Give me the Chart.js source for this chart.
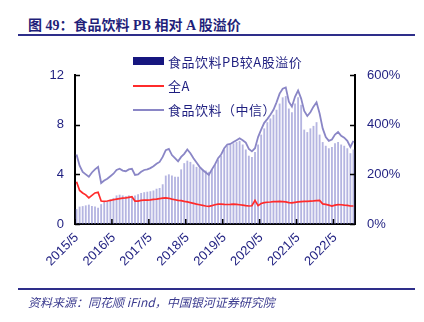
<!DOCTYPE html>
<html>
<head>
<meta charset="utf-8">
<script src="https://cdn.jsdelivr.net/npm/chart.js@4.4.0/dist/chart.umd.min.js"></script>
<style>
    body { margin: 0; width: 424px; height: 322px; background: #fff; position: relative; overflow: hidden; }
    #title { position: absolute; left: 28px; top: 14px; font: bold 14px "Liberation Serif", "Noto Sans CJK SC", serif; color: #1f1f7a; white-space: nowrap; }
    .rule { position: absolute; left: 18px; width: 397px; height: 2px; background: #2e2e8a; }
    #source { position: absolute; left: 28px; top: 293px; font: italic 12px "Noto Sans CJK SC", sans-serif; color: #3b3b8f; white-space: nowrap; }
    #wrap { position: absolute; left: 0; top: 0; width: 424px; height: 322px; }
    #legend { position: absolute; left: 133px; top: 50px; font: 13px "Noto Sans CJK SC", sans-serif; color: #1f1f80; letter-spacing: 0.5px; }
    .item { position: absolute; left: 0; height: 24px; white-space: nowrap; }
    .swatch { position: absolute; left: 0; width: 31px; }
    .item span { position: absolute; left: 35px; top: 2px; }
</style>
</head>
<body>
<div id="title">图 49：食品饮料 PB 相对 A 股溢价</div>
<div class="rule" style="top:34px"></div>
<div id="wrap"><canvas id="myChart" width="424" height="322"></canvas></div>
<div id="legend"></div>
<div class="rule" style="top:288px"></div>
<div id="source">资料来源：同花顺 iFind，中国银河证券研究院</div>
<script>
// monthly, 2015/5 .. 2022/11
var startYear = 2015, startMonth = 5, monthCount = 91;
var yearTicks = ['2015/5', '2016/5', '2017/5', '2018/5', '2019/5', '2020/5', '2021/5', '2022/5'];

// 食品饮料PB较A股溢价 (%)
var premium = [60, 70, 72, 75, 78, 72, 70, 65, 80, 88, 92, 98,
    105, 115, 118, 115, 112, 115, 112, 115, 120, 125, 128, 130,
    132, 135, 142, 145, 160, 195, 200, 195, 190, 190, 220, 245,
    255, 250, 240, 230, 225, 220, 215, 210, 220, 240, 260, 275,
    300, 315, 320, 325, 330, 335, 320, 300, 275, 270, 290, 320,
    360, 385, 410, 425, 440, 460, 485, 510, 515, 465, 450, 485,
    510, 480, 380, 370, 385, 395, 410, 360, 330, 315, 305, 310,
    325, 330, 320, 315, 305, 285, 300];

// 全A PB
var allA = [3.4, 2.7, 2.5, 2.35, 2.1, 2.3, 2.5, 2.55, 1.85, 1.82, 1.85, 1.9,
    1.95, 2.0, 2.05, 2.08, 2.1, 2.15, 2.2, 1.85, 1.85, 1.9, 1.92, 1.93,
    1.95, 1.98, 2.0, 2.05, 2.08, 2.1, 2.07, 2.0, 1.95, 1.9, 1.88, 1.82,
    1.78, 1.72, 1.66, 1.6, 1.55, 1.5, 1.45, 1.42, 1.48, 1.55, 1.6, 1.6,
    1.58, 1.57, 1.58, 1.6, 1.58, 1.55, 1.52, 1.48, 1.45, 1.47, 1.9, 1.48,
    1.65, 1.72, 1.75, 1.77, 1.8, 1.8, 1.82, 1.8, 1.78, 1.72, 1.7, 1.74,
    1.78, 1.8, 1.82, 1.83, 1.85, 1.86, 1.88, 1.9, 1.62, 1.58, 1.52, 1.45,
    1.52, 1.56, 1.55, 1.52, 1.5, 1.45, 1.45];

// 食品饮料（中信）PB
var foodPB = [5.6, 4.7, 4.2, 4.0, 3.8, 4.15, 4.4, 4.6, 3.3, 3.5, 3.65, 3.85,
    4.05, 4.35, 4.45, 4.3, 4.25, 4.4, 4.45, 3.95, 4.0, 4.2, 4.35, 4.4,
    4.5, 4.65, 4.85, 5.0, 5.4, 5.95, 6.05, 5.55, 5.3, 5.05, 5.4, 5.65,
    6.0, 5.7, 5.3, 4.95, 4.6, 4.35, 4.15, 3.95, 4.4, 4.8, 5.3, 5.6,
    6.1, 6.4, 6.45, 6.6, 6.75, 6.9, 6.75, 6.55, 6.05, 5.85, 6.1, 7.0,
    7.6, 8.15, 8.45, 8.8, 9.2, 9.8, 10.5, 10.9, 11.0, 9.85, 9.45, 10.25,
    10.75, 10.1, 9.1, 8.7, 9.0, 9.45, 9.8, 8.9, 7.7, 7.0, 6.7, 6.8,
    7.2, 7.4, 7.1, 6.95, 6.7, 6.2, 6.7];

var labels = [];
for (var i = 0; i < monthCount; i++) {
    var m = startMonth - 1 + i;
    labels.push((startYear + Math.floor(m / 12)) + '/' + (m % 12 + 1));
}

var navy = '#1f1f80';
var tickFont = { family: '"Liberation Sans", Arial, sans-serif', size: 13 };

var innerTicks = {
    id: 'innerTicks',
    afterDatasetsDraw: function (chart) {
        var ctx = chart.ctx, area = chart.chartArea;
        var x = chart.scales.x, y = chart.scales.y, y1 = chart.scales.y1;
        var half = (x.getPixelForValue(1) - x.getPixelForValue(0)) / 2;
        ctx.save();
        ctx.strokeStyle = '#000';
        ctx.lineWidth = 1.5;
        ctx.beginPath();
        y.ticks.forEach(function (t, i) {
            var py = Math.round(y.getPixelForTick(i)) + 0.5;
            ctx.moveTo(area.left, py); ctx.lineTo(area.left + 5, py);
        });
        y1.ticks.forEach(function (t, i) {
            var py = Math.round(y1.getPixelForTick(i)) + 0.5;
            ctx.moveTo(area.right, py); ctx.lineTo(area.right - 5, py);
        });
        labels.forEach(function (l, i) {
            if (yearTicks.indexOf(l) < 0) return;
            var px = x.getPixelForValue(i) - half;
            ctx.moveTo(px, area.bottom); ctx.lineTo(px, area.bottom - 5);
        });
        ctx.stroke();
        ctx.restore();
    }
};

var ctx = document.getElementById('myChart').getContext('2d');

var myChart = new Chart(ctx, {
    type: 'bar',
    data: {
        labels: labels,
        datasets: [{
            label: '食品饮料PB较A股溢价',
            data: premium,
            yAxisID: 'y1',
            backgroundColor: 'rgba(120, 120, 200, 0.55)',
            legendColor: '#16167f',
            barPercentage: 0.6,
            categoryPercentage: 1,
            order: 3
        },
        {
            type: 'line',
            label: '全A',
            data: allA,
            yAxisID: 'y',
            borderColor: '#ff2b2b',
            borderWidth: 1.7,
            pointRadius: 0,
            tension: 0,
            order: 1
        },
        {
            type: 'line',
            label: '食品饮料（中信）',
            data: foodPB,
            yAxisID: 'y',
            borderColor: '#8a86c6',
            borderWidth: 1.8,
            pointRadius: 0,
            tension: 0,
            order: 2
        }]
    },
    options: {
        responsive: false,
        animation: false,
        layout: { padding: { top: 75, left: 0, right: 0, bottom: 0 } },
        plugins: { legend: { display: false }, tooltip: { enabled: false } },
        scales: {
            x: {
                grid: { display: false, drawTicks: false },
                border: { display: true, color: '#000', width: 2 },
                ticks: {
                    autoSkip: false,
                    maxRotation: 45,
                    minRotation: 45,
                    padding: 6,
                    color: navy,
                    font: tickFont,
                    callback: function (val, i) {
                        return yearTicks.indexOf(labels[i]) >= 0 ? labels[i] : '';
                    }
                },
                afterFit: function (scale) { scale.height = 98; }
            },
            y: {
                position: 'left',
                min: 0,
                max: 12,
                grid: { display: false, drawTicks: false },
                border: { display: true, color: '#000', width: 2 },
                ticks: { stepSize: 4, padding: 11, color: navy, font: tickFont },
                afterFit: function (scale) { scale.width = 75; }
            },
            y1: {
                position: 'right',
                min: 0,
                max: 600,
                grid: { display: false, drawTicks: false },
                border: { display: true, color: '#000', width: 2 },
                ticks: {
                    stepSize: 200, padding: 12, color: navy, font: tickFont,
                    callback: function (v) { return v + '%'; }
                },
                afterFit: function (scale) { scale.width = 69; }
            }
        }
    },
    plugins: [innerTicks]
});

// legend drawn as html, laid over the top of the plot like the original
var legend = document.getElementById('legend');
myChart.data.datasets.forEach(function (ds, i) {
    var item = document.createElement('div');
    item.className = 'item';
    item.style.top = (i * 24) + 'px';
    var sw = document.createElement('div');
    sw.className = 'swatch';
    if (ds.type === 'line') {
        sw.style.top = '11px';
        sw.style.height = '2px';
        sw.style.background = ds.borderColor;
    } else {
        sw.style.top = '7px';
        sw.style.height = '8px';
        sw.style.background = ds.legendColor;
    }
    var txt = document.createElement('span');
    txt.textContent = ds.label;
    item.appendChild(sw);
    item.appendChild(txt);
    legend.appendChild(item);
});
</script>
</body>
</html>
